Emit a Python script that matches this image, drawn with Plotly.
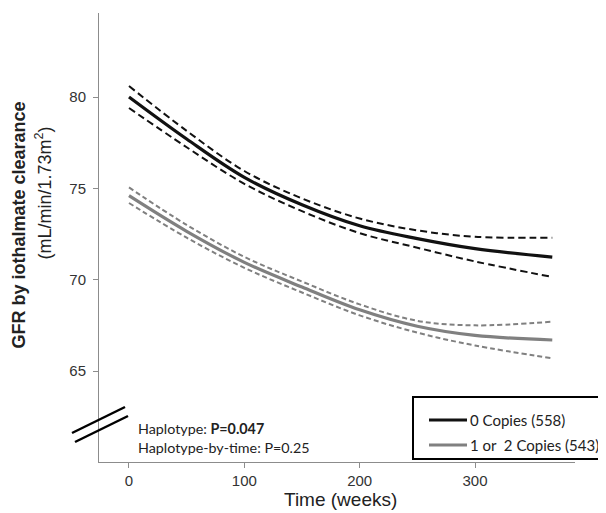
import plotly.graph_objects as go

# ---- data ----
weeks = [0, 50, 100, 150, 200, 250, 300, 367]

copies0_mean = [80.0, 77.7, 75.6, 74.1, 72.95, 72.25, 71.7, 71.24]
copies0_upper = [80.6, 78.15, 75.95, 74.45, 73.35, 72.7, 72.35, 72.3]
copies0_lower = [79.4, 77.25, 75.25, 73.75, 72.55, 71.75, 71.0, 70.15]

copies12_mean = [74.6, 72.65, 70.95, 69.6, 68.35, 67.45, 66.95, 66.7]
copies12_upper = [75.05, 73.0, 71.25, 69.9, 68.65, 67.75, 67.5, 67.7]
copies12_lower = [74.2, 72.3, 70.65, 69.3, 68.05, 67.1, 66.4, 65.7]

y_ticks = [65, 70, 75, 80]
x_ticks = [0, 100, 200, 300]

legend_labels = ["0 Copies (558)", "1 or  2 Copies (543)"]

# ---- layout geometry (pixels of the 606x513 window; page body has an 8px margin) ----
OFF = 8
W, H = 606 - OFF, 513 - OFF
PLOT_L, PLOT_R, PLOT_T, PLOT_B = 99, 575, 13, 462  # window pixels
L = PLOT_L - OFF
T = PLOT_T - OFF
R = W - (PLOT_R - OFF)
B = H - (PLOT_B - OFF)
PW, PH = PLOT_R - PLOT_L, PLOT_B - PLOT_T


def px(x):
    return (x - PLOT_L) / PW


def py(y):
    return (PLOT_B - y) / PH


BLACK = "#111111"
GRAY = "#808080"

fig = go.Figure()

for ys, dash, col, w in [
    (copies0_upper, "7px,4px", BLACK, 2),
    (copies0_lower, "7px,4px", BLACK, 2),
    (copies0_mean, "solid", BLACK, 3.2),
    (copies12_upper, "5px,3px", GRAY, 2),
    (copies12_lower, "5px,3px", GRAY, 2),
    (copies12_mean, "solid", GRAY, 3.2),
]:
    fig.add_trace(go.Scatter(
        x=weeks, y=ys, mode="lines",
        line=dict(color=col, width=w, dash=dash, shape="spline", smoothing=1.0),
        showlegend=False, hoverinfo="skip",
    ))

axis_col = "#8c8c8c"
tick_font = dict(family="Liberation Sans Narrow, Arial Narrow, Liberation Sans, Arial", size=15, color="#333333")

fig.update_xaxes(
    range=[-26, 386.7], tickvals=x_ticks, ticks="outside", ticklen=5,
    tickcolor=axis_col, showline=True, linecolor=axis_col, linewidth=1,
    showgrid=False, zeroline=False, tickfont=tick_font,
)
fig.update_yaxes(
    range=[60.02, 84.6], tickvals=y_ticks, ticks="outside", ticklen=5,
    tickcolor=axis_col, showline=True, linecolor=axis_col, linewidth=1,
    showgrid=False, zeroline=False, tickfont=tick_font, ticklabelstandoff=4,
)

shapes = []
# axis break marks
shapes.append(dict(type="line", xref="paper", yref="paper",
                   x0=px(72), y0=py(433), x1=px(125), y1=py(407),
                   line=dict(color="black", width=2.5)))
shapes.append(dict(type="line", xref="paper", yref="paper",
                   x0=px(75), y0=py(442), x1=px(128), y1=py(416),
                   line=dict(color="black", width=2.5)))
# legend box
shapes.append(dict(type="rect", xref="paper", yref="paper",
                   x0=px(413), x1=px(604), y0=py(459), y1=py(397),
                   line=dict(color="black", width=2), fillcolor="white", layer="above"))
shapes.append(dict(type="line", xref="paper", yref="paper",
                   x0=px(429), x1=px(467), y0=py(420), y1=py(420),
                   line=dict(color=BLACK, width=3), layer="above"))
shapes.append(dict(type="line", xref="paper", yref="paper",
                   x0=px(429), x1=px(467), y0=py(445), y1=py(445),
                   line=dict(color=GRAY, width=3), layer="above"))

cal = "Lato, Carlito, Calibri, Open Sans, sans-serif"
annotations = [
    dict(x=px(468), y=py(420), text=legend_labels[0], xanchor="left", yanchor="middle",
         font=dict(family=cal, size=15, color="#222222")),
    dict(x=px(468), y=py(445), text=legend_labels[1], xanchor="left", yanchor="middle",
         font=dict(family=cal, size=15, color="#222222")),
    dict(x=px(136), y=py(428), text="Haplotype: <b>P=0.047</b>", xanchor="left", yanchor="middle",
         font=dict(family=cal, size=14.3, color="#222222")),
    dict(x=px(136), y=py(447), text="Haplotype-by-time: P=0.25", xanchor="left", yanchor="middle",
         font=dict(family=cal, size=14.3, color="#222222")),
    dict(x=px(340), y=py(499), text="Time (weeks)", xanchor="center", yanchor="middle",
         font=dict(family="Liberation Sans, Arial", size=19, color="#222222")),
    dict(x=px(18.5), y=py(225), text="<b>GFR by iothalmate clearance</b>", textangle=-90,
         xanchor="center", yanchor="middle",
         font=dict(family="Liberation Sans, Arial", size=18, color="#222222")),
    dict(x=px(43.5), y=py(193), text="(mL/min/1.73m<sup>2</sup>)", textangle=-90,
         xanchor="center", yanchor="middle",
         font=dict(family="Liberation Sans, Arial", size=18, color="#222222")),
]
for a in annotations:
    a.update(xref="paper", yref="paper", showarrow=False)

fig.update_layout(
    width=W, height=H,
    margin=dict(l=L, r=R, t=T, b=B),
    plot_bgcolor="white", paper_bgcolor="white",
    shapes=shapes, annotations=annotations,
    showlegend=False,
)

fig.write_html("out.html")
